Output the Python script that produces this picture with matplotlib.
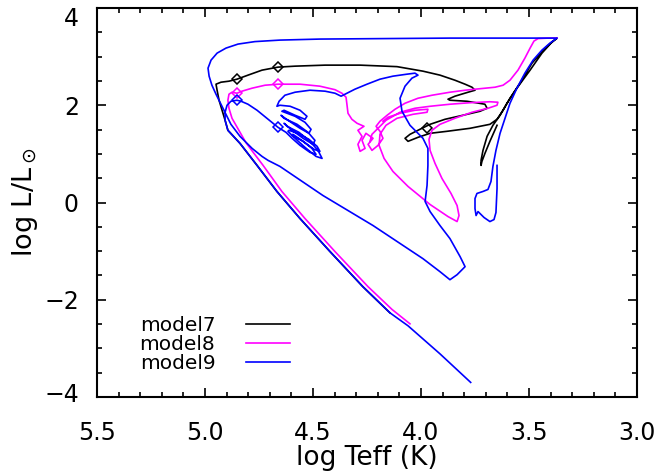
import numpy as np
import matplotlib
matplotlib.use("Agg")
import matplotlib.pyplot as plt
from matplotlib.ticker import MultipleLocator
from matplotlib.transforms import ScaledTranslation

plt.rcParams['font.family'] = ['DejaVu Sans']
plt.rcParams['mathtext.fontset'] = 'dejavusans'

nan = np.nan

# ---------------- model7 (black) ----------------
m7_logT = [3.648, 3.681, 3.704, 3.718, 3.722, 3.722, 3.713, 3.694, 3.667, 3.634, 3.602, 3.556, 3.495,
           3.440, 3.398, 3.370, 3.389, 3.426, 3.486, 3.542, 3.588, 3.620, 3.648, 3.681, 3.773, 3.880,
           3.958, 4.014, 4.060, 4.074, 4.051, 4.005, 3.958, 3.889, 3.806, 3.727, 3.694, 3.704, 3.787,
           3.866, 3.875, 3.843, 3.782, 3.750, 3.764, 3.796, 3.843, 3.912, 3.991, 4.111, 4.282, 4.444,
           4.583, 4.662, 4.736, 4.801, 4.852, 4.889, 4.926, 4.949, 4.944, 4.935, 4.921, 4.907, 4.894,
           4.838, 4.759, 4.667, 4.560, 4.421, 4.269, 4.144]
m7_logL = [1.588, 1.258, 1.010, 0.845, 0.763, 0.866, 1.072, 1.361, 1.588, 1.794, 2.041, 2.351, 2.722,
           3.072, 3.278, 3.381, 3.320, 3.175, 2.866, 2.454, 2.144, 1.897, 1.711, 1.608, 1.526, 1.464,
           1.423, 1.340, 1.258, 1.320, 1.402, 1.505, 1.608, 1.711, 1.794, 1.876, 1.938, 2.021, 2.082,
           2.103, 2.124, 2.186, 2.268, 2.309, 2.371, 2.433, 2.515, 2.619, 2.701, 2.794, 2.825, 2.825,
           2.804, 2.784, 2.722, 2.619, 2.536, 2.495, 2.474, 2.433, 2.309, 2.103, 1.897, 1.691, 1.485,
           1.216, 0.763, 0.227, -0.330, -1.010, -1.732, -2.268]
m7_mark_logT = [4.852, 4.662, 3.972]
m7_mark_logL = [2.536, 2.784, 1.540]

# ---------------- model8 (magenta) ----------------
m8_logT = [4.236, 4.227, 4.199, 4.162, 4.097, 4.028, 3.958, 3.866, 3.773, 3.681, 3.644, 3.648, 3.690,
           3.764, 3.843, 3.912, 3.949, 3.963, 3.958, 3.935, 3.903, 3.861, 3.833, 3.824, 3.833, 3.875,
           3.958, 4.060, 4.130, 4.171, 4.194, 4.190, 4.162, 4.111, 4.037, 3.972, 3.968, 4.028, 4.097,
           4.153, 4.176,
           nan,
           3.370, 3.412, 3.458, 3.477, 3.495, 3.519, 3.551, 3.588, 3.620, 3.657, 3.727, 3.796, 3.866,
           3.949, 4.014, 4.074, 4.120, 4.157, 4.190, 4.208,
           4.190, 4.176, 4.199, 4.227, 4.245, 4.222, 4.255, 4.273, 4.259, 4.282, 4.292, 4.273, 4.292,
           4.264, 4.296, 4.320, 4.338,
           4.343, 4.347, 4.366, 4.398,
           4.468, 4.560, 4.662, 4.722, 4.782, 4.829, 4.852, 4.875, 4.889, 4.894, 4.889, 4.875, 4.810,
           4.731, 4.644, 4.537, 4.398, 4.245, 4.134, 4.051]
m8_logL = [1.258, 1.402, 1.526, 1.691, 1.856, 1.938, 1.979, 2.021, 2.052, 2.072, 2.062, 2.000, 1.938,
           1.856, 1.732, 1.608, 1.485, 1.299, 1.072, 0.804, 0.495, 0.186, -0.062, -0.268, -0.392, -0.289,
           -0.041, 0.330, 0.639, 0.907, 1.175, 1.402, 1.588, 1.732, 1.814, 1.856, 1.918, 1.897, 1.835,
           1.753, 1.670,
           nan,
           3.381, 3.381, 3.371, 3.320, 3.175, 2.969, 2.722, 2.515, 2.412, 2.371, 2.340, 2.309, 2.268,
           2.206, 2.144, 2.041, 1.918, 1.794, 1.670, 1.567,
           1.464, 1.320, 1.175, 1.072, 1.196, 1.320, 1.423, 1.278, 1.113, 1.052, 1.196, 1.361, 1.485,
           1.567, 1.629, 1.711, 1.835,
           2.021, 2.165, 2.247, 2.320,
           2.392, 2.433, 2.433, 2.412, 2.351, 2.289, 2.247, 2.268, 2.227, 2.103, 1.938, 1.732, 1.227,
           0.763, 0.227, -0.330, -1.010, -1.732, -2.200, -2.495]
m8_mark_logT = [4.852, 4.662]
m8_mark_logL = [2.247, 2.433]

# ---------------- model9 (blue) ----------------
m9_logT = [3.648, 3.648, 3.653, 3.662, 3.681, 3.708, 3.736, 3.745, 3.750, 3.750, 3.741, 3.713, 3.690,
           3.676, 3.667, 3.653, 3.634, 3.611, 3.588, 3.556, 3.519, 3.481, 3.440, 3.403, 3.370,
           3.449, 3.866, 4.190, 4.468, 4.653, 4.769, 4.847, 4.903, 4.944, 4.972, 4.986, 4.981, 4.968,
           4.949, 4.926, 4.903, 4.880, 4.838, 4.782, 4.736, 4.708, 4.653, 4.454, 4.222, 3.991, 3.912,
           3.866, 3.833, 3.796, 3.819, 3.866, 3.912, 3.958, 3.981, 3.972, 3.968, 3.968, 3.991, 4.051,
           4.088, 4.097, 4.074, 4.042, 4.014, 4.028, 4.065, 4.130, 4.190, 4.250, 4.306, 4.352, 4.370,
           4.398, 4.444, 4.514, 4.583, 4.630, 4.657, 4.667,
           4.653, 4.606, 4.560, 4.528, 4.537, 4.583, 4.634,
           4.644, 4.583, 4.537, 4.509, 4.519, 4.560, 4.616, 4.648,
           4.634, 4.574, 4.523, 4.491, 4.500, 4.546, 4.602, 4.634,
           4.620, 4.565, 4.514, 4.477, 4.458, 4.486, 4.537, 4.588, 4.616,
           4.611, 4.560, 4.519, 4.481, 4.468, 4.495, 4.546, 4.593,
           4.597, 4.546, 4.505, 4.486, 4.514, 4.560, 4.597, 4.625, 4.662,
           4.713, 4.759, 4.801, 4.833, 4.852, 4.880, 4.898, 4.907, 4.907, 4.894, 4.838, 4.759, 4.667,
           4.560, 4.421, 4.269, 4.144, 4.060, 3.912, 3.770]
m9_logL = [0.763, 0.289, -0.206, -0.351, -0.392, -0.309, -0.186, -0.268, -0.124, 0.082, 0.186, 0.227,
           0.268, 0.433, 0.742, 1.072, 1.423, 1.732, 2.041, 2.351, 2.660, 2.928, 3.134, 3.278, 3.381,
           3.381, 3.381, 3.371, 3.361, 3.340, 3.309, 3.258, 3.175, 3.072, 2.928, 2.763, 2.598, 2.412,
           2.227, 2.021, 1.814, 1.608, 1.361, 1.113, 0.948, 0.866, 0.742, 0.144, -0.474, -1.155, -1.423,
           -1.588, -1.485, -1.320, -1.113, -0.742, -0.474, -0.186, 0.021, 0.351, 0.763, 1.113, 1.320,
           1.588, 1.876, 2.144, 2.392, 2.557, 2.619, 2.660, 2.639, 2.598, 2.536, 2.433, 2.330, 2.227,
           2.186, 2.247, 2.289, 2.309, 2.268, 2.206, 2.082, 1.979,
           2.000, 1.979, 1.897, 1.773, 1.711, 1.794, 1.897,
           1.876, 1.773, 1.649, 1.505, 1.423, 1.526, 1.691, 1.794,
           1.732, 1.608, 1.443, 1.278, 1.196, 1.320, 1.505, 1.629,
           1.567, 1.443, 1.258, 1.072, 0.907, 0.948, 1.134, 1.340, 1.464,
           1.485, 1.402, 1.299, 1.155, 1.052, 1.093, 1.258, 1.402,
           1.381, 1.258, 1.113, 0.990, 1.031, 1.175, 1.320, 1.443, 1.546,
           1.732, 1.897, 2.021, 2.082, 2.103, 2.082, 2.000, 1.856, 1.691, 1.485, 1.216, 0.763, 0.227,
           -0.330, -1.010, -1.732, -2.268, -2.536, -3.113, -3.700]
m9_mark_logT = [4.852, 4.662]
m9_mark_logL = [2.103, 1.546]

labels = ['model7', 'model8', 'model9']
colors = ['black', '#ff00ff', '#0000ff']

fig = plt.figure(figsize=(6.63, 4.72), dpi=100)
ax = fig.add_axes([97/663, 1 - 397/472, 540/663, 389/472])

tracks = [(m7_logT, m7_logL, m7_mark_logT, m7_mark_logL),
          (m8_logT, m8_logL, m8_mark_logT, m8_mark_logL),
          (m9_logT, m9_logL, m9_mark_logT, m9_mark_logL)]
handles = []
for (lt, ll, mt, ml), lab, col in zip(tracks, labels, colors):
    h, = ax.plot(lt, ll, color=col, lw=1.2, label=lab, solid_joinstyle='round')
    ax.plot(mt, ml, linestyle='none', marker='D', markersize=5.5, markerfacecolor='none',
            markeredgecolor=col, markeredgewidth=1.1)
    handles.append(h)

ax.set_xlim(5.5, 3.0)
ax.set_ylim(-4, 4)
ax.xaxis.set_major_locator(MultipleLocator(0.5))
ax.xaxis.set_minor_locator(MultipleLocator(0.1))
ax.yaxis.set_major_locator(MultipleLocator(2))
ax.yaxis.set_minor_locator(MultipleLocator(0.5))
ax.xaxis.set_major_formatter(plt.FuncFormatter(lambda v, p: f"{v:.1f}"))
ax.tick_params(which='both', direction='in', top=True, right=True, labelsize=17, width=1.2)
ax.tick_params(which='major', length=6.8)
ax.tick_params(axis='x', which='major', pad=17)
ax.tick_params(axis='y', which='major', pad=13)
ax.tick_params(which='minor', length=3.6)
for s in ax.spines.values():
    s.set_linewidth(1.5)

ax.set_xlabel('log Teff (K)', fontsize=19, labelpad=0)
ax.set_ylabel(r'log L/L$_\odot$', fontsize=19.5, labelpad=3)

leg = ax.legend(handles=handles, labels=labels, loc='lower left', bbox_to_anchor=(0.064, 0.04),
                frameon=False, markerfirst=False, fontsize=14.5, handlelength=2.2,
                handletextpad=1.5, labelspacing=0.0, borderaxespad=0)

fig.canvas.draw()
for tk in ax.yaxis.get_major_ticks():
    v = tk.get_loc()
    if abs(v - 4) < 1e-6:
        tk.label1.set_transform(tk.label1.get_transform() + ScaledTranslation(0, -8/100, fig.dpi_scale_trans))
    elif abs(v + 4) < 1e-6:
        tk.label1.set_transform(tk.label1.get_transform() + ScaledTranslation(0, 5/100, fig.dpi_scale_trans))

fig.savefig('out.png', dpi=100)
